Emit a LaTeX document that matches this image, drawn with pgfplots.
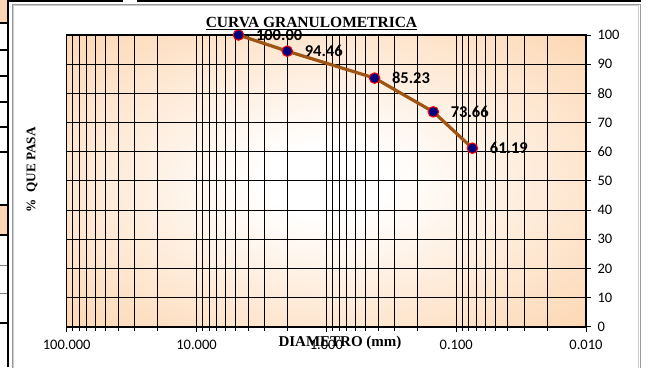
\documentclass[border=0pt]{standalone}
\usepackage{pgfplots}
\pgfplotsset{compat=1.18}
\usepackage{fontspec}
\setmainfont{Carlito}
\newfontfamily\tnr{Liberation Serif}
\definecolor{peach}{RGB}{252,201,152}
\definecolor{cellor}{RGB}{252,213,180}
\definecolor{brownl}{RGB}{158,84,18}
\definecolor{navy}{RGB}{0,0,128}
\pgfdeclareradialshading{plotshade}{\pgfpoint{0bp}{0bp}}{color(0bp)=(white); color(6bp)=(white); color(28bp)=(peach!55); color(46bp)=(peach); color(50bp)=(peach)}
\pgfplotstableread{
x y lab
4.75 100.00 100.00
2.00 94.46 94.46
0.425 85.23 85.23
0.150 73.66 73.66
0.075 61.19 61.19
}\gradtable
\begin{document}
\begin{tikzpicture}[x=1pt,y=1pt]
\useasboundingbox (0,0) rectangle (648,367);
% spreadsheet clutter on the left
\fill[cellor] (0,345) rectangle (7,367);
\fill[cellor] (0,132) rectangle (7,161);
\foreach \yy in {344,317,291,265,240,215,162,132,44} \draw[black,line width=1.5pt] (0,\yy) -- (8,\yy);
\foreach \yy in {102,74} \draw[gray,line width=0.6pt] (0,\yy) -- (8,\yy);
\draw[black,line width=2pt] (8,0) -- (8,367);
\draw[black,line width=2pt] (8,366) -- (123,366) (137,366) -- (641,366);
\draw[gray!80,line width=0.8pt] (12,-2) -- (12,363) -- (640,363) -- (640,-2);
\draw[gray!40,line width=0.6pt] (13.5,-2) -- (13.5,361.5) -- (638.5,361.5) -- (638.5,-2);
\begin{axis}[
  at={(66.7pt,40.3pt)}, anchor=south west,
  scale only axis, width=519.3pt, height=291.7pt,
  xmode=log, x dir=reverse,
  xmin=0.01, xmax=100, ymin=0, ymax=100,
  xtick={100,10,1,0.1,0.01},
  xticklabels={100.000,10.000,1.000,0.100,0.010},
  minor xtick={0.02,0.03,0.04,0.05,0.06,0.07,0.08,0.09,0.2,0.3,0.4,0.5,0.6,0.7,0.8,0.9,2,3,4,5,6,7,8,9,20,30,40,50,60,70,80,90},
  ytick={0,10,...,100},
  grid=both,
  major grid style={black,line width=0.8pt},
  minor grid style={black,line width=0.8pt},
  axis line style={black,line width=1.6pt},
  tick align=outside,
  xtick pos=bottom, ytick pos=right, yticklabel pos=right,
  major tick length=5pt, minor tick length=4pt,
  tick style={black,line width=0.8pt},
  tick label style={font=\fontsize{14.5}{16}\selectfont},
  xticklabel style={yshift=-5pt},
  yticklabel style={xshift=3pt},
  /pgf/number format/assume math mode=true,
  axis background/.style={shading=plotshade},
  clip=false,
]
\addplot[brownl, line width=3.2pt, mark=*, mark size=5.3pt,
  mark options={fill=navy, draw=red, line width=1pt},
  nodes near coords, point meta=explicit symbolic,
  every node near coord/.append style={anchor=west, xshift=17pt, font=\bfseries\fontsize{16.5}{18}\selectfont, text=black, inner sep=0pt}]
  table[x=x, y=y, meta=lab] {\gradtable};
\end{axis}
\node[anchor=base, font=\tnr\bfseries\fontsize{15.5}{17}\selectfont] at (311.5,339) {\underline{CURVA GRANULOMETRICA}};
\node[rotate=90, font=\tnr\bfseries\fontsize{13.2}{15}\selectfont] at (32,197) {\%\ \ QUE PASA};
\node[anchor=base, font=\tnr\bfseries\fontsize{15}{17}\selectfont] at (340,20.5) {DIAMETRO (mm)};
\end{tikzpicture}
\end{document}
